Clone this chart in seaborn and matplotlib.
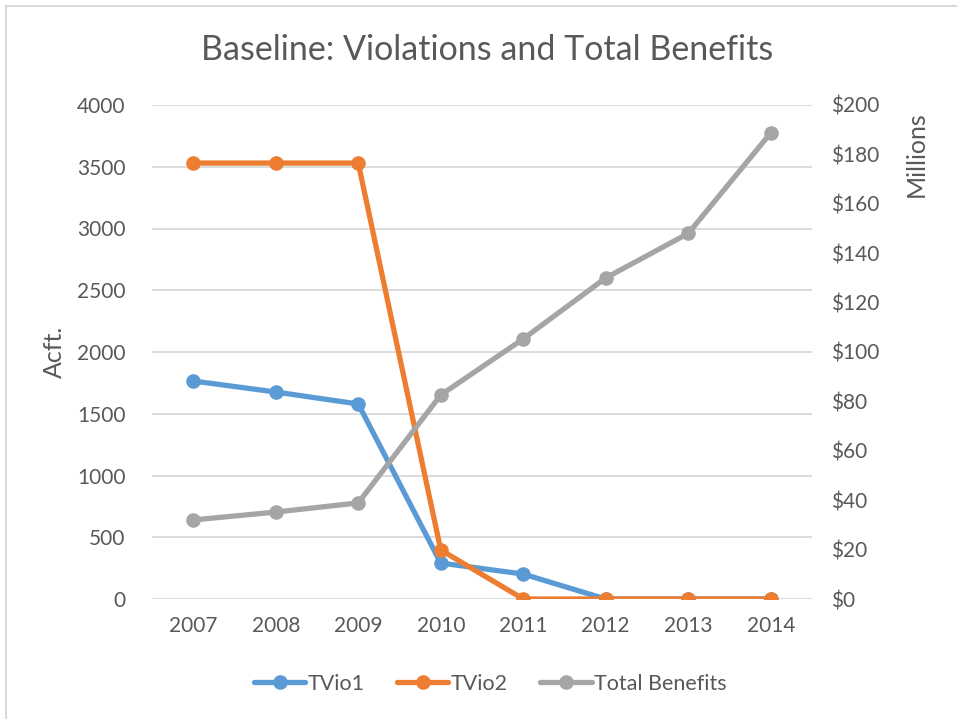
import numpy as np
import pandas as pd
import matplotlib
matplotlib.use('Agg')
import matplotlib.pyplot as plt
import seaborn as sns
from matplotlib.lines import Line2D
from matplotlib.patches import Rectangle
from matplotlib.ticker import MultipleLocator, FuncFormatter

# data
years = ['2007', '2008', '2009', '2010', '2011', '2012', '2013', '2014']
tvio1 = [1765, 1676, 1579, 291, 202, 0, 0, 0]
tvio2 = [3530, 3530, 3530, 397, 0, 0, 0, 0]
total_benefits = [32, 35.2, 38.9, 82.6, 105.3, 130, 148, 188.7]  # millions $

BLUE = '#5B9BD5'
ORANGE = '#ED7D31'
GRAY = '#A5A5A5'
TXT = '#595959'

sns.set_theme(style='white')
plt.rcParams['font.family'] = ['Lato', 'DejaVu Sans']

df = pd.DataFrame({'year': years, 'TVio1': tvio1, 'TVio2': tvio2,
                   'Total Benefits': total_benefits})
df['x'] = np.arange(len(years))

fig = plt.figure(figsize=(9.57, 7.19), dpi=100)
ax = fig.add_axes([152 / 957, 1 - 599 / 719, 660 / 957, 494 / 719])
ax2 = ax.twinx()

lw = 3.8
ms = 10.5
sns.lineplot(data=df, x='x', y='TVio1', ax=ax, color=BLUE, lw=lw,
             marker='o', markersize=ms, markeredgewidth=0, zorder=3)
sns.lineplot(data=df, x='x', y='TVio2', ax=ax, color=ORANGE, lw=lw,
             marker='o', markersize=ms, markeredgewidth=0, zorder=4)
sns.lineplot(data=df, x='x', y='Total Benefits', ax=ax2, color=GRAY, lw=lw,
             marker='o', markersize=ms, markeredgewidth=0, zorder=3)

ax.set_xlim(-0.5, len(years) - 0.5)
ax.set_ylim(0, 4000)
ax2.set_ylim(0, 200)
ax.yaxis.set_major_locator(MultipleLocator(500))
ax2.yaxis.set_major_locator(MultipleLocator(20))
ax2.yaxis.set_major_formatter(FuncFormatter(lambda v, p: '${:.0f}'.format(v)))
ax.set_xticks(df['x'])
ax.set_xticklabels(years)

ax.grid(axis='y', color='#D9D9D9', lw=1.3)
ax.set_axisbelow(True)
for a in (ax, ax2):
    for s in a.spines.values():
        s.set_visible(False)
    a.tick_params(length=0, colors=TXT, labelsize=15)
ax.tick_params(axis='y', pad=19)
ax.tick_params(axis='x', pad=12)
ax2.tick_params(axis='y', pad=14)

ax.set_xlabel('')
ax.set_ylabel('Acft.', color=TXT, fontsize=18, labelpad=8)
ax2.set_ylabel('Millions', color=TXT, fontsize=18)
ax2.yaxis.set_label_coords(1.14, 0.90)

fig.text(487 / 957, 1 - 50 / 719, 'Baseline: Violations and Total Benefits',
         ha='center', va='center', fontsize=24.5, color=TXT)

handles = [Line2D([], [], color=c, lw=lw, marker='o', markersize=ms,
                  markeredgewidth=0) for c in (BLUE, ORANGE, GRAY)]
fig.legend(handles, ['TVio1', 'TVio2', 'Total Benefits'], loc='center',
           bbox_to_anchor=(490 / 957, 1 - 684 / 719), ncol=3, frameon=False,
           fontsize=15.5, labelcolor=TXT, handlelength=2.4, handletextpad=0.1,
           columnspacing=1.5)

fig.patches.append(Rectangle((6 / 957, -0.1), 1.2, 1.1 - 6 / 719,
                             transform=fig.transFigure, fill=False,
                             edgecolor='#D9D9D9', lw=1.5))

fig.savefig('out.png', dpi=100, facecolor='white')
